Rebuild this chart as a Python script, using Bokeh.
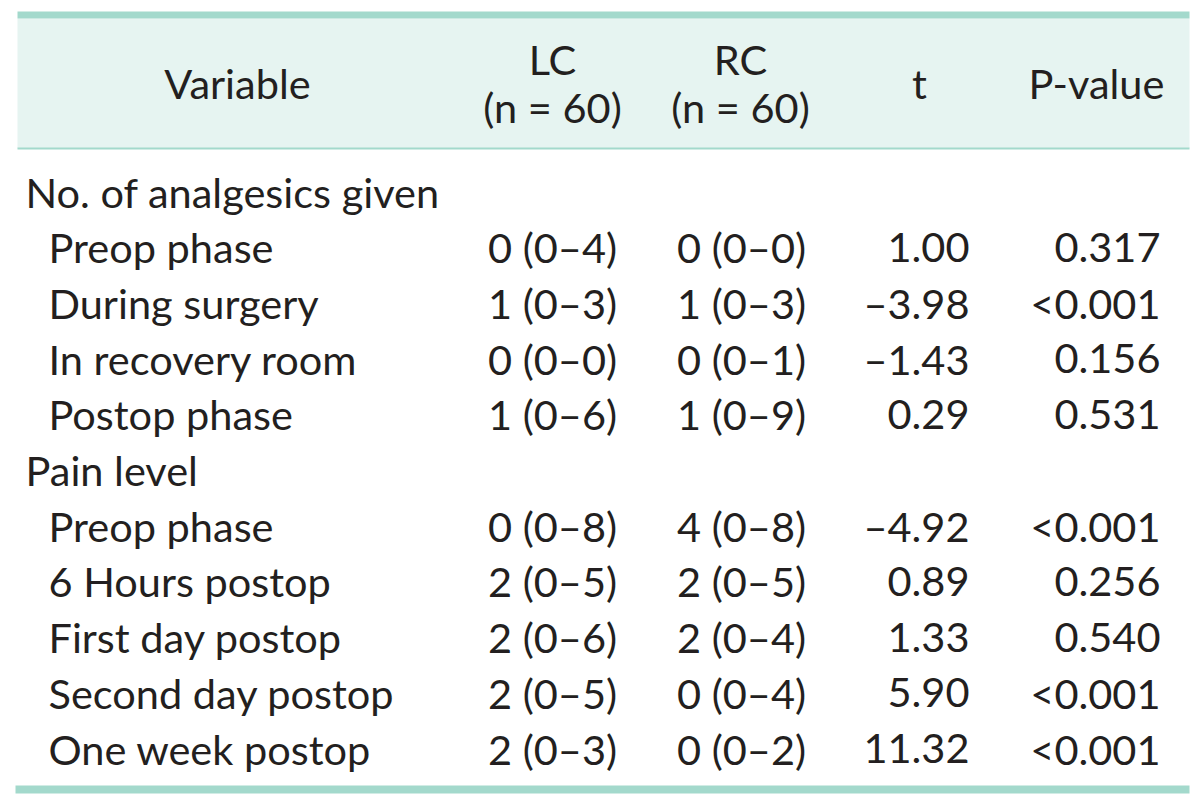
from bokeh.plotting import figure
from bokeh.models import Range1d
from bokeh.core.properties import value
from bokeh.embed import file_html
from bokeh.resources import INLINE

# ---- data ----
headers = ["Variable", "LC", "RC", "t", "P-value"]
subheaders = ["", "(n = 60)", "(n = 60)", "", ""]
variables = ["No. of analgesics given", "Preop phase", "During surgery", "In recovery room",
             "Postop phase", "Pain level", "Preop phase", "6 Hours postop", "First day postop",
             "Second day postop", "One week postop"]
is_group = [True, False, False, False, False, True, False, False, False, False, False]
lc = ["", "0 (0\u20134)", "1 (0\u20133)", "0 (0\u20130)", "1 (0\u20136)", "",
      "0 (0\u20138)", "2 (0\u20135)", "2 (0\u20136)", "2 (0\u20135)", "2 (0\u20133)"]
rc = ["", "0 (0\u20130)", "1 (0\u20133)", "0 (0\u20131)", "1 (0\u20139)", "",
      "4 (0\u20138)", "2 (0\u20135)", "2 (0\u20134)", "0 (0\u20134)", "0 (0\u20132)"]
t_vals = ["", "1.00", "\u20133.98", "\u20131.43", "0.29", "",
          "\u20134.92", "0.89", "1.33", "5.90", "11.32"]
p_vals = ["", "0.317", "<0.001", "0.156", "0.531", "",
          "<0.001", "0.256", "0.540", "<0.001", "<0.001"]

FONT = "Lato"
FS = "41.5px"
TXT = "#231f20"
BAR = "#a3d9cc"
BAND = "#e6f4f1"
DY_TXT = -15  # renderer baseline correction

W, H = 1196, 800
p = figure(width=W, height=H, output_backend="svg", toolbar_location=None,
           x_range=Range1d(0, W), y_range=Range1d(H, 0),
           min_border=0, outline_line_color=None)
p.axis.visible = False
p.grid.visible = False
p.background_fill_color = "white"

# header band and rules
p.quad(left=[17], right=[1189], top=[18], bottom=[148], fill_color=BAND, line_color=None)
p.quad(left=[17], right=[1189], top=[11], bottom=[18], fill_color=BAR, line_color=None)
p.quad(left=[17], right=[1189], top=[147], bottom=[149], fill_color=BAR, line_color=None)
p.quad(left=[15], right=[1189], top=[785], bottom=[793], fill_color=BAR, line_color=None)

def txt(x, y, s, align):
    p.text(x=[xx - 2 for xx in x], y=[yy + DY_TXT for yy in y], text=s,
           text_font=value(FONT), text_font_size=FS,
           text_color=TXT, text_align=align, text_baseline="alphabetic")

# header
txt([239], [97], [headers[0]], "center")
txt([554, 742], [73, 73], [headers[1], headers[2]], "center")
txt([554, 742], [121, 121], [subheaders[1], subheaders[2]], "center")
txt([921], [97], [headers[3]], "center")
txt([1098], [97], [headers[4]], "center")

# body
y0, dy = 206, 55.7
ys = [y0 + i * dy for i in range(len(variables))]
xs_var = [27 if g else 50 for g in is_group]
txt(xs_var, ys, variables, "left")
txt([554] * len(ys), ys, lc, "center")
txt([743] * len(ys), ys, rc, "center")
txt([971] * len(ys), ys, t_vals, "right")
txt([1162] * len(ys), ys, p_vals, "right")

open("out.html", "w").write(file_html(p, INLINE))
